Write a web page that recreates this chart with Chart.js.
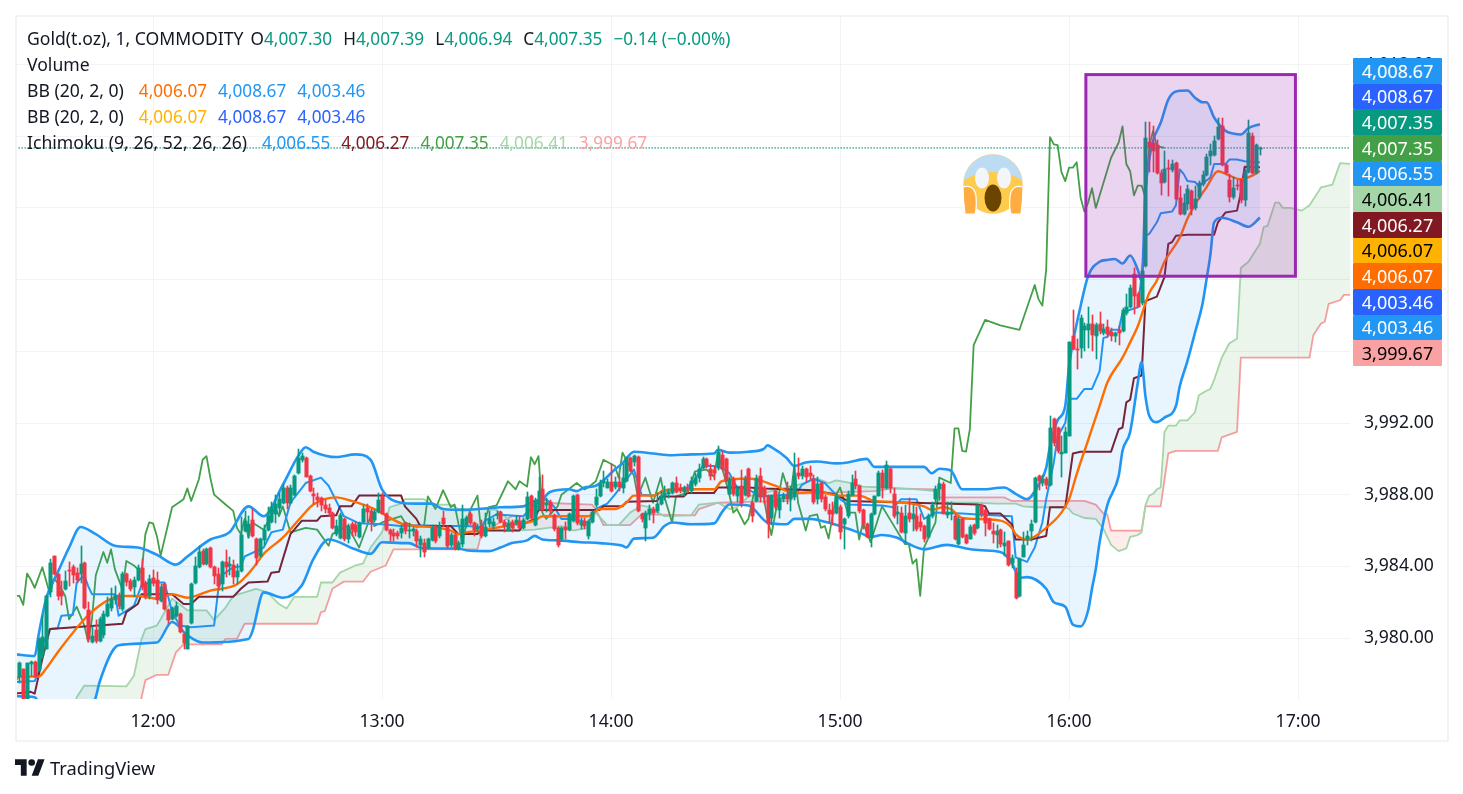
<!DOCTYPE html>
<html>
<head>
<meta charset="utf-8">
<title>Gold(t.oz), 1, COMMODITY</title>
<script src="https://cdn.jsdelivr.net/npm/chart.js@4"></script>
<style>
    html, body { margin: 0; padding: 0; background: #fff; }
    body { width: 1463px; height: 794px; position: relative; overflow: hidden; font-family: "Noto Sans", sans-serif; color: #131722; }
    canvas { position: absolute; left: 0; top: 0; }
    .frame { position: absolute; left: 15px; top: 15px; width: 1430px; height: 723px; border: 2px solid #f2f3f5; }
    .legend-row { position: absolute; left: 27px; height: 22px; line-height: 22px; font-size: 17.6px; white-space: pre; }
    .legend-row span { margin-left: 11px; font-size: 17.2px; }
    .legend-row span.first { margin-left: 15px; }
    .legend-row span.near { margin-left: 7px; }
    .legend-row span.tight { margin-left: 0; }
    .badge { position: absolute; left: 1353px; width: 89px; text-align: center; font-size: 18px; border-radius: 1px; }
    .emoji { position: absolute; left: 940px; top: 140px; }
    .logo { position: absolute; left: 15px; top: 759px; }
    .brand { position: absolute; left: 50px; top: 755px; font-size: 18.3px; line-height: 26px; color: #131722; }
</style>
</head>
<body>
<canvas id="goldChart" width="1463" height="794"></canvas>
<div class="frame"></div>

<div class="legend-row" style="top:27px">Gold(t.oz), 1, COMMODITY<span class="near">O</span><span class="tight" style="color:#089981">4,007.30</span><span>H</span><span class="tight" style="color:#089981">4,007.39</span><span>L</span><span class="tight" style="color:#089981">4,006.94</span><span>C</span><span class="tight" style="color:#089981">4,007.35</span><span style="color:#089981">−0.14 (−0.00%)</span></div>
<div class="legend-row" style="top:53px">Volume</div>
<div class="legend-row" style="top:79px">BB (20, 2, 0)<span class="first" style="color:#ff6d00">4,006.07</span><span style="color:#2196f3">4,008.67</span><span style="color:#2196f3">4,003.46</span></div>
<div class="legend-row" style="top:105px">BB (20, 2, 0)<span class="first" style="color:#ffb300">4,006.07</span><span style="color:#2962ff">4,008.67</span><span style="color:#2962ff">4,003.46</span></div>
<div class="legend-row" style="top:131px">Ichimoku (9, 26, 52, 26, 26)<span class="first" style="color:#2196f3">4,006.55</span><span style="color:#801922">4,006.27</span><span style="color:#43a047">4,007.35</span><span style="color:#a5d6a7">4,006.41</span><span style="color:#faa1a4">3,999.67</span></div>

<svg class="emoji" width="100" height="90" viewBox="0 0 100 90">
    <defs>
        <clipPath id="faceClip"><circle cx="53" cy="44" r="29.5"></circle></clipPath>
    </defs>
    <circle cx="53" cy="44" r="30" fill="#f6e9c4"></circle>
    <g clip-path="url(#faceClip)">
        <rect x="20" y="10" width="66" height="70" fill="#ffcb4c"></rect>
        <path d="M20 10 H86 V44 Q74 32 53 32 Q32 32 20 44 Z" fill="#bbdcf3"></path>
    </g>
    <ellipse cx="42" cy="38" rx="7" ry="10.5" fill="#f2f6fa"></ellipse>
    <ellipse cx="64" cy="38" rx="7" ry="10.5" fill="#f2f6fa"></ellipse>
    <ellipse cx="53" cy="58" rx="8.5" ry="13.5" fill="#6b4500"></ellipse>
    <path d="M23 47 Q34 44 36 56 Q37 68 35 74 L25 74 Q23 60 23 47 Z" fill="#ffac40" stroke="#fff" stroke-width="1.2"></path>
    <path d="M83 47 Q72 44 70 56 Q69 68 71 74 L81 74 Q83 60 83 47 Z" fill="#ffac40" stroke="#fff" stroke-width="1.2"></path>
</svg>

<svg class="logo" width="30" height="17" viewBox="0 0 36 20">
    <path d="M14 20H7V7H0V0h14v20zM28 20h-8L27.5 0h8L28 20z" fill="#131722"></path>
    <circle cx="20" cy="4" r="4" fill="#131722"></circle>
</svg>
<div class="brand">TradingView</div>

<script>
// minutes are counted from 12:00, one candle per minute
const firstCandleMinute = -35;

const openPrices = [
    3977.85,3978.3,3976.6,3978.55,3978.65,3978.2,3979.05,3979.4,3982.55,3984.6,
    3983.55,3982.65,3982.75,3983.78,3983.95,3983.65,3983.55,3984.2,3981.55,3979.8,
    3980.45,3979.85,3980.15,3981.25,3981.65,3982.1,3982.4,3981.6,3983.6,3983.2,
    3982.85,3983.25,3983.9,3983.1,3982.35,3983.35,3983.25,3982.05,3983,3981.55,
    3981.05,3981.25,3981.35,3980.25,3979.4,3980.85,3983.05,3983.95,3984.85,3984.15,
    3985,3983.95,3983.55,3983,3984.25,3984,3984.05,3983.4,3983.75,3985.95,
    3985.95,3986.6,3985.5,3984.6,3985.45,3986.05,3986.45,3986.9,3987.25,3987.55,
    3988.35,3987.55,3988,3989.2,3989.95,3990.05,3989.05,3988.05,3987.85,3987.8,
    3987.45,3987.25,3987,3985.8,3985.6,3986.65,3985.5,3986.35,3986.3,3985.65,
    3986.45,3987.25,3987.1,3986.6,3987.05,3987.9,3986.9,3986.05,3985.85,3985.85,
    3985.85,3986.4,3985.95,3985.95,3986,3985.2,3985.3,3985,3985.45,3986.2,
    3985.7,3986.7,3986.2,3985.2,3985.75,3984.95,3985.25,3986.3,3986.95,3986.4,
    3986.1,3986.25,3985.7,3986.35,3986.25,3986.85,3987.05,3986.5,3986,3986.5,
    3986.4,3986.55,3986.15,3986.65,3987.9,3986.3,3987.2,3988.3,3987.45,3987.6,
    3986.85,3986.15,3985.5,3986.2,3986.05,3986.55,3988,3986.3,3986.55,3985.7,
    3986.45,3987.4,3987.9,3988.65,3988.4,3988.7,3988.45,3988.7,3988.4,3988.75,
    3990.05,3989.85,3990.1,3986.95,3986.15,3986.9,3987.2,3987.1,3987.5,3987.9,
    3988.05,3988.1,3988.65,3988.4,3988.15,3988.4,3988.2,3988.6,3988.95,3989.5,
    3990,3989.45,3989.4,3989.5,3990.2,3990,3988.05,3988.9,3987.95,3988.5,
    3988,3989.45,3987.55,3987.65,3989.05,3988.4,3987.9,3986.7,3988.2,3987.15,
    3987.75,3988,3987.75,3987.85,3989.2,3989.05,3989.45,3989.2,3988.9,3987.75,
    3988.65,3987.85,3987.15,3987.1,3987,3987.3,3986.35,3986.8,3988,3988.9,
    3988.5,3987.15,3986.35,3985.6,3986.9,3987.95,3989.2,3988.4,3989.45,3988.05,
    3986.95,3987,3985.85,3987,3986.65,3986.8,3986.45,3986.25,3985.65,3986.8,
    3987.75,3988.3,3988.6,3986.85,3986.95,3986.8,3985.25,3986.65,3985.75,3985.55,
    3986.3,3986.15,3987.45,3987.15,3986.65,3986,3985.75,3986.05,3985.15,3985.4,
    3984.2,3983.65,3982.35,3984.55,3985.55,3985.95,3986.5,3989.05,3988.65,3988.9,
    3988.55,3992.25,3991.7,3990.25,3990.35,3991.3,3996.85,3996.1,3996.2,3997.2,
    3997.2,3997.55,3996.85,3997.5,3997,3997.35,3997.1,3996.85,3997.2,3997.15,
    3998.15,3998.5,4000.3,3999.2,3998.7,4000.75,4007.7,4007.6,4007.5,4005.95,
    4005.45,4006.25,4006.1,4006.5,4004.55,4003.65,4004.2,4004.95,4004,4004.6,
    4005.35,4005.85,4006.9,4006.95,4007.85,4008.55,4006.4,4005.55,4004.6,4005.25,
    4005.55,4004.45,4006,4008,4005.95,4007.30
];
const highPrices = [
    3978.65,3978.3,3978.6,3978.7,3978.7,3980,3981.25,3982.4,3984.4,3984.6,
    3983.6,3983.2,3983.75,3984.25,3984.1,3983.9,3985.15,3984.25,3982,3980.7,
    3981,3981.2,3981.5,3982.3,3982.8,3982.9,3982.5,3983.7,3983.65,3983.3,
    3983.4,3984.1,3984.4,3983.2,3983.5,3983.8,3983.7,3983,3983.05,3981.6,
    3981.75,3982,3981.4,3980.3,3980.7,3983.1,3984.5,3985.15,3984.95,3985.05,
    3985.1,3984,3983.9,3984.3,3984.9,3984.5,3984.35,3984.15,3986.75,3987.1,
    3986.8,3987.2,3985.6,3985.6,3986.3,3987.3,3987.6,3988,3988.1,3988.6,
    3988.5,3988.55,3989.1,3990.55,3990.3,3990.1,3989.1,3988.4,3988.1,3987.85,
    3987.7,3987.5,3987.05,3986.6,3987,3986.7,3986.35,3986.5,3986.5,3986.45,
    3987.4,3987.5,3987.2,3987.15,3988.1,3988.1,3987,3986.1,3986.1,3986,
    3986.3,3986.5,3986.4,3986.2,3986.1,3985.7,3985.5,3985.6,3986.3,3986.3,
    3986.5,3987.1,3986.25,3985.85,3985.9,3985.4,3987.4,3986.8,3987.05,3986.5,
    3986.35,3986.6,3987,3987.1,3986.7,3987.1,3987.1,3986.6,3986.6,3986.6,
    3986.8,3986.8,3986.7,3988.15,3988,3987.8,3989,3989.1,3987.8,3987.7,
    3986.9,3986.2,3986.2,3986.5,3987,3988,3988.05,3986.7,3986.7,3986.6,
    3987.1,3988.3,3988.8,3989.3,3988.85,3989.7,3989,3989.05,3989.7,3990.1,
    3990.1,3990.2,3990.15,3987,3987.1,3987.4,3987.3,3988.1,3988.2,3988.5,
    3988.3,3988.7,3989,3988.6,3988.5,3988.6,3989,3989.2,3989.7,3990.1,
    3990.05,3989.7,3989.6,3990.7,3990.45,3990.05,3989,3989,3988.5,3989.4,
    3989.05,3989.5,3987.6,3989.1,3989.5,3988.5,3988,3988,3988.3,3988,
    3988.1,3988.7,3988.5,3990.3,3990.05,3989.6,3989.5,3989.6,3989.1,3989,
    3988.7,3988,3987.5,3987.6,3988.05,3987.4,3986.7,3988.2,3989.1,3989.3,
    3988.55,3987.2,3986.4,3987,3987.95,3989.3,3989.4,3989.9,3989.5,3988.4,
    3987.35,3987.3,3987.4,3987.8,3987.4,3987.3,3986.9,3986.3,3986.9,3987.6,
    3988.5,3988.65,3988.7,3987.6,3987.6,3986.9,3986.75,3986.7,3985.8,3986.3,
    3986.35,3987.45,3987.5,3987.2,3986.7,3986.4,3986.3,3986.1,3985.9,3985.4,
    3984.65,3983.9,3984.45,3985.9,3986,3986.6,3989,3989.1,3989.1,3989,
    3992.4,3992.3,3991.8,3991.3,3991.8,3996.5,3998.3,3996.7,3998,3997.6,
    3998.5,3998,3997.6,3998.2,3997.5,3997.75,3997.3,3997.1,3997.4,3998.4,
    3999.2,3999.7,4000.65,3999.3,4000.55,4008.8,4008.8,4008.6,4007.8,4006.1,
    4007.2,4006.7,4006.65,4006.55,4005.2,4004.8,4005.3,4005,4005.2,4005.5,
    4006.05,4007,4007.55,4008,4009,4009,4006.45,4005.9,4005.7,4005.55,
    4005.6,4006.15,4008.9,4008.2,4007.55,4007.39
];
const lowPrices = [
    3977.5,3976.5,3976.5,3977.9,3977.8,3978.15,3978.9,3979.4,3982.3,3983.5,
    3982.1,3981.85,3982.7,3982.9,3983.1,3983.1,3983.1,3981.6,3979.8,3979.7,
    3979.7,3979.8,3980,3981.2,3981.5,3981.9,3981.6,3981.5,3982.9,3982.6,
    3982.3,3983.2,3982.7,3982.2,3982.2,3982.9,3981.9,3982,3981.55,3980.8,
    3981,3981.2,3980.3,3979.4,3979.4,3980.8,3983,3983.9,3984.1,3984.1,
    3983.9,3983,3982.7,3982.6,3983.4,3983.5,3983,3983,3983.7,3985.9,
    3985.6,3985.65,3984.1,3984.55,3985.2,3986,3986.4,3986.4,3986.9,3987.5,
    3987.2,3987.5,3987.9,3989.15,3989.8,3989,3988.15,3987.5,3987.3,3987.1,
    3987,3986.8,3986.1,3985.7,3985.5,3985.4,3985.3,3985.7,3985.7,3985.6,
    3986.4,3986.5,3986,3986.5,3987,3986.9,3986,3985.4,3985.4,3985.55,
    3985.6,3985.8,3985.6,3985.7,3985.1,3984.5,3984.5,3984.95,3985.4,3985.3,
    3985.6,3986.2,3985,3985.1,3984.9,3984.9,3985.1,3986.2,3986.3,3985.7,
    3985.9,3985.6,3985.65,3986.2,3986.1,3986.65,3986.4,3985.9,3985.95,3985.9,
    3986.3,3986.1,3986.1,3986.6,3986.6,3986.25,3987.1,3987.1,3987.05,3986.9,
    3986,3985.1,3985.4,3985.5,3986,3986.5,3986.3,3986.1,3986.1,3985.5,
    3986.4,3987.3,3987.85,3988.45,3988.35,3988.15,3988.3,3988.2,3988.1,3988.7,
    3989.25,3989.6,3987.05,3986.5,3985.4,3986.6,3986.4,3987,3987.4,3987.7,
    3987.8,3988.05,3988.1,3988.1,3987.95,3988.1,3988.1,3988.5,3988.7,3989.45,
    3989.5,3988.8,3988.8,3989.35,3989.4,3988.7,3988,3987.95,3987.6,3987.3,
    3987.9,3987.85,3986.5,3987.6,3987.6,3987.5,3985.6,3986.3,3987.2,3986.7,
    3987.6,3987.5,3987.1,3987.7,3988.9,3988.9,3988.7,3988.8,3987.5,3987.5,
    3987.6,3987.1,3986.4,3986.3,3986.9,3985.5,3984.95,3986.7,3987.9,3988.3,
    3987,3986.1,3985.6,3985.1,3986.85,3987.9,3987.8,3988.3,3988.1,3986.7,
    3986.35,3985.85,3985.3,3986.5,3986,3986,3986,3985.35,3985.6,3986.7,
    3987.5,3987.7,3986.9,3986.7,3986.6,3985.45,3985.2,3985.6,3985.25,3985.5,
    3985.75,3986.1,3986.75,3985.7,3986.05,3985.3,3985,3985.1,3984.6,3984,
    3983.9,3982.2,3982.3,3984.5,3985.2,3985.4,3986.4,3988.25,3988.5,3988.3,
    3988.5,3990.7,3990.3,3989,3990.3,3991.25,3996.1,3995,3995.6,3996,
    3996.2,3996,3995.55,3996.95,3996.9,3996.8,3996.6,3996.5,3996.35,3997.1,
    3998,3998.4,3998.1,3998.45,3998.6,4000.7,4006,4006,4005.9,4004.7,
    4005.4,4004.65,4006,4004.45,4003.6,4003.6,4003.9,4003.6,4003.9,4004.5,
    4005.2,4005.8,4006.4,4006.9,4007.8,4006.35,4005.9,4004.35,4004.5,4005,
    4004.3,4004.1,4005.95,4005.9,4005.9,4006.94
];
const closePrices = [
    3978.6,3976.6,3978.6,3978.65,3977.85,3979.95,3980.05,3982.35,3984.2,3983.55,
    3982.35,3982.35,3983.2,3983.73,3983.5,3983.25,3984.15,3981.65,3979.95,3980.1,
    3979.85,3981.05,3981.35,3981.9,3982.2,3982.4,3981.8,3983.55,3983.15,3982.75,
    3983.25,3983.9,3982.85,3982.35,3983.3,3983.1,3982.1,3982.85,3981.6,3981,
    3981.7,3981.8,3980.35,3979.7,3980.65,3983,3984,3984.8,3984.15,3984.95,
    3983.95,3983.45,3982.9,3984.25,3983.95,3984.15,3983.4,3983.75,3985.75,3986.55,
    3986.35,3985.7,3984.45,3985.5,3986.05,3986.8,3987.3,3987.5,3987.75,3988.4,
    3987.55,3988.4,3989.05,3990.05,3990.15,3989,3988.2,3987.9,3987.7,3987.45,
    3987.2,3987,3986.15,3986.25,3986.85,3985.5,3986.25,3986.05,3985.9,3986.4,
    3987.2,3987.05,3986.45,3987.05,3987.7,3986.95,3986.05,3985.8,3985.7,3985.7,
    3986.15,3985.95,3986,3986.1,3985.4,3985.5,3984.8,3985.5,3986.15,3985.4,
    3986.25,3986.35,3985.15,3985.75,3984.95,3985.3,3986.65,3986.7,3986.4,3986.05,
    3986.2,3985.7,3986.2,3986.65,3986.5,3986.95,3986.45,3986.25,3986.4,3986.15,
    3986.6,3986.15,3986.6,3987.85,3986.7,3987.65,3988.2,3987.15,3987.55,3987.1,
    3986.1,3985.2,3986.15,3986.05,3986.95,3987.9,3986.4,3986.5,3986.25,3986.45,
    3987.05,3987.85,3988.6,3988.75,3988.7,3988.2,3988.7,3988.45,3988.95,3990.05,
    3989.3,3990.15,3987.1,3986.65,3987,3987.2,3987,3987.5,3987.9,3988.1,
    3988.15,3988.65,3988.15,3988.2,3988.4,3988.3,3988.75,3988.95,3989.45,3990,
    3989.6,3989.05,3989.2,3990.4,3989.45,3988.75,3988.9,3988.05,3988.4,3987.55,
    3988.9,3987.95,3986.8,3988.95,3987.85,3987.9,3986.35,3987.95,3987.3,3987.8,
    3987.9,3987.75,3988.2,3989.05,3989.05,3989.45,3989,3989.05,3987.6,3988.6,
    3987.75,3987.2,3986.95,3986.95,3987.95,3985.9,3986.65,3988.05,3988.65,3988.5,
    3987.1,3986.35,3985.65,3986.95,3987.9,3989.2,3988.4,3989.65,3988.4,3986.8,
    3987.05,3985.9,3986.8,3986.65,3986.9,3986.1,3986.2,3985.5,3986.8,3987.4,
    3988.3,3988.6,3986.95,3987.05,3987.05,3985.5,3986.65,3985.65,3985.3,3986.2,
    3985.85,3987.4,3986.95,3986.4,3986.1,3985.8,3986,3985.25,3985.3,3984.05,
    3984.45,3982.25,3984.4,3985.2,3985.7,3986.35,3988.95,3988.75,3988.9,3988.55,
    3991.7,3990.9,3990.45,3990.4,3991.5,3996.5,3996.15,3996.05,3997.85,3997.4,
    3997.5,3996.9,3997.45,3997.15,3997.25,3996.95,3996.85,3997,3997,3998.3,
    3998.45,3999.55,3999.1,3998.5,4000.5,4007.9,4007.4,4007.2,4005.95,4005.4,
    4006.2,4006.15,4006.45,4004.5,4003.65,4004.3,4005.05,4003.95,4004.5,4005.4,
    4005.85,4006.85,4007.15,4007.75,4008.5,4006.4,4005.95,4004.6,4005.1,4005.2,
    4004.45,4006.05,4008.2,4005.95,4007.5,4007.35
];

// indicator lines as [minute, price]
const bbUpper = [[-36,3979.09],[-31,3979],[-30,3980.15],[-28,3982.2],[-25,3983.65],[-22,3985.05],[-19,3986.2],[-15,3985.8],[-10,3985.15],[-4,3985.05],[1,3984.65],[6,3984.1],[9,3984.55],[15,3985.5],[20,3985.9],[25,3987.35],[29,3986.8],[34,3988.55],[38,3990.15],[40,3990.65],[42,3990.4],[48,3990.1],[53,3990.25],[57,3989.95],[60,3988.3],[65,3987.55],[69,3987.5],[73,3987.5],[76,3987.2],[82,3987.15],[91,3987.3],[97,3987.35],[100,3987.65],[102,3987.75],[104,3988.15],[109,3988.3],[111,3988.2],[113,3988.4],[116,3988.5],[121,3989.4],[123,3989.75],[126,3990.4],[131,3990.3],[136,3990.2],[141,3990.25],[147,3990.3],[148,3990.5],[151,3990.35],[156,3990.4],[160,3990.55],[161,3990.75],[162,3990.65],[166,3990.05],[168,3989.6],[171,3989.8],[174,3989.85],[179,3989.75],[182,3989.8],[187,3990],[189,3989.55],[202,3989.55],[204,3989.2],[206,3989.45],[209,3989.35],[212,3988.3],[217,3988.3],[223,3988.4],[226,3988.05],[229,3987.75],[232,3988.55],[234,3989.5],[235,3990.7],[237,3992.15],[239,3992.95],[240,3995.2],[243,3998.5],[245,4000.2],[248,4001],[250,4001.1],[252,4001.15],[254,4000.9],[256,4001.35],[258,4000.55],[259,3999.9],[260,4004.85],[261,4006.7],[262,4007.75],[264,4008.75],[266,4010.05],[268,4010.5],[271,4010.55],[273,4010.15],[275,4009.9],[276,4009.9],[278,4009.05],[281,4008.3],[283,4008.15],[285,4008.1],[287,4008.45],[290,4008.67]];
const bbBasis = [[-36,3977.65],[-35,3977.85],[-30,3977.85],[-28,3978.3],[-25,3979.2],[-18,3981.05],[-15,3981.65],[-11,3982.2],[-8,3982.35],[-4,3982.35],[1,3982.2],[5,3982.45],[9,3982.25],[15,3982.65],[22,3983],[26,3983.85],[29,3984.7],[34,3985.6],[39,3986.8],[42,3987.45],[48,3987.85],[52,3987.65],[58,3987.2],[65,3986.4],[69,3986.25],[73,3986.2],[78,3986],[80,3985.8],[82,3985.9],[86,3986],[91,3986.2],[95,3986.35],[100,3986.55],[102,3986.8],[110,3986.8],[114,3986.8],[117,3987.2],[121,3987.2],[124,3987.55],[126,3987.95],[131,3987.95],[134,3988.25],[140,3988.3],[147,3988.3],[149,3988.75],[156,3988.9],[159,3988.8],[163,3988.5],[168,3988.1],[174,3988.15],[180,3987.95],[185,3987.95],[189,3987.65],[194,3987.6],[202,3987.35],[204,3987.15],[207,3987.3],[209,3987.2],[212,3986.7],[215,3986.65],[222,3986.55],[225,3986.15],[226,3985.8],[229,3985.5],[234,3986.15],[238,3987],[240,3987.75],[242,3989.15],[245,3991.05],[248,3992.95],[250,3994.25],[254,3995.65],[256,3996.5],[258,3997.4],[261,3999.25],[263,3999.95],[265,4001],[269,4002.35],[271,4003.4],[273,4004.2],[276,4005.15],[279,4006.05],[282,4005.8],[285,4005.6],[288,4005.8],[290,4006.07]];
const bbLower = [[-36,3976.75],[-31,3976.7],[-29,3976],[-22,3975],[-17,3975.9],[-15,3976.7],[-14,3977.55],[-9,3979.6],[1,3979.75],[5,3980.9],[9,3980.15],[13,3979.75],[25,3979.95],[26,3980.35],[29,3982.55],[34,3982.25],[39,3982.95],[42,3984.4],[46,3985.5],[53,3984.95],[57,3984.7],[60,3985.35],[65,3985.3],[67,3985.3],[70,3985.05],[74,3985],[80,3985],[82,3984.9],[88,3984.85],[91,3985.05],[94,3985.3],[98,3985.45],[100,3985.7],[102,3985.5],[106,3985.45],[112,3985.35],[117,3985.3],[123,3985.15],[124,3985.05],[126,3985.55],[131,3985.6],[134,3986.25],[136,3986.45],[141,3986.35],[147,3986.4],[149,3987],[151,3987.45],[156,3987.4],[161,3986.45],[166,3986.35],[168,3986.65],[172,3986.65],[175,3986.55],[180,3986.25],[186,3985.8],[188,3985.65],[191,3985.75],[195,3985.6],[198,3985.25],[202,3984.95],[208,3985.2],[213,3985],[217,3984.9],[222,3984.8],[225,3984.2],[227,3983.35],[229,3983.4],[234,3982.75],[236,3982],[239,3981.75],[241,3980.75],[243,3980.65],[245,3981.55],[246,3982.75],[247,3983.85],[248,3985.35],[250,3987.4],[253,3989.05],[254,3990.45],[256,3991.5],[258,3994.25],[259,3995.4],[260,3993.5],[261,3992.4],[263,3992.05],[265,3992.3],[268,3992.95],[269,3994.05],[271,3995.45],[273,3997.05],[275,3998.7],[276,4000],[277,4001.35],[278,4003.2],[280,4003.45],[284,4003.2],[287,4002.95],[290,4003.46]];
const conversionLine = [[-36,3977.55],[-31,3977.6],[-30,3978.1],[-29,3979.6],[-27,3980.5],[-25,3980.55],[-24,3981.25],[-21,3981.3],[-20,3983.1],[-18,3983.5],[-17,3982.9],[-16,3982.45],[-10,3982.45],[-9,3981.25],[-5,3981.8],[-3,3982.95],[-1,3983.1],[3,3983.1],[5,3981.45],[7,3980.7],[10,3980.6],[16,3980.7],[17,3982.55],[18,3983.5],[21,3983.95],[23,3984],[24,3984.55],[29,3985.05],[31,3985.9],[34,3986.05],[36,3987.55],[40,3988.65],[44,3988.95],[46,3988.5],[50,3986.8],[54,3986.4],[60,3986.35],[65,3986.25],[70,3986.3],[76,3986.25],[82,3986.25],[86,3986.2],[87,3986.55],[90,3986.9],[97,3986.8],[100,3987.45],[103,3987.75],[105,3987.35],[107,3986.65],[110,3986.65],[114,3986.45],[116,3987.2],[119,3987.5],[121,3988],[124,3988.85],[126,3989.4],[128,3988],[131,3987.95],[134,3988.2],[140,3988.4],[142,3988.85],[144,3989.6],[148,3989.6],[151,3989.2],[153,3988.4],[156,3988.3],[159,3987.9],[166,3988],[169,3988.2],[170,3988.55],[173,3988.9],[176,3988.65],[180,3987.75],[182,3987.45],[191,3987.4],[194,3987.3],[196,3987.75],[200,3987.75],[202,3986.65],[205,3987],[212,3986.95],[216,3986.9],[225,3986.8],[226,3984.5],[229,3984.25],[231,3985.05],[233,3986.45],[234,3987.75],[236,3989.8],[237,3991.25],[239,3992],[240,3993.35],[242,3993.35],[244,3993.9],[246,3993.9],[248,3994.9],[249,3996.75],[250,3996.8],[251,3997.2],[253,3997.2],[254,3998.15],[255,3998.25],[258,3998.45],[259,4000.2],[260,4002.45],[261,4002.55],[263,4003.2],[264,4003.7],[267,4003.8],[268,4004.15],[269,4006.15],[270,4005.9],[271,4005.5],[273,4005.45],[274,4005.2],[277,4005.7],[278,4006.45],[281,4006.45],[282,4006.7],[284,4006.7],[286,4006.6],[290,4006.55]];
const baseLine = [[-36,3976.9],[-32,3977],[-31,3976.9],[-29,3978.85],[-27,3980.5],[-8,3980.8],[-7,3981.45],[-4,3981.9],[-3,3982.45],[5,3982.45],[8,3981.9],[10,3981.9],[12,3982.3],[21,3982.3],[23,3982.75],[25,3983.1],[30,3983.15],[31,3983.65],[33,3983.7],[36,3985.8],[39,3986.55],[43,3986.55],[44,3986.8],[48,3986.85],[49,3987.35],[52,3987.35],[54,3987.95],[65,3987.95],[66,3987.35],[69,3986.65],[70,3986.25],[78,3986.25],[80,3985.8],[85,3985.8],[86,3986],[96,3986],[97,3986.35],[100,3986.65],[101,3987.15],[117,3987.15],[118,3987.35],[123,3987.35],[124,3987.6],[132,3987.65],[133,3987.9],[139,3987.9],[140,3988.1],[147,3988.1],[148,3988.4],[156,3988.4],[160,3988.35],[173,3988.25],[179,3988],[182,3987.65],[216,3987.45],[218,3987.35],[219,3986.95],[222,3986.95],[225,3986.35],[226,3985.5],[230,3985.5],[234,3985.7],[235,3987.3],[239,3987.3],[241,3990.3],[243,3990.4],[251,3990.4],[253,3991.65],[254,3991.75],[255,3993.15],[256,3993.3],[257,3994.5],[259,3994.65],[260,3998.8],[263,3999.05],[265,4000.15],[266,4002],[267,4002.1],[268,4002.45],[271,4002.5],[278,4002.5],[279,4003.2],[281,4003.75],[284,4003.85],[285,4004.85],[286,4006.3],[290,4006.27]];
const laggingSpan = [[-36,3982.35],[-35,3982.35],[-34,3981.85],[-33,3983.6],[-32,3983.25],[-31,3982.8],[-29,3983.95],[-27,3982.45],[-26,3983.3],[-25,3983.1],[-23,3982.35],[-22,3981.05],[-20,3981.75],[-18,3980.7],[-17,3979.8],[-16,3981.05],[-15,3983.5],[-13,3984.8],[-12,3984.2],[-11,3984.95],[-10,3983.85],[-8,3982.7],[-7,3984.3],[-5,3984.05],[-3,3983.65],[-2,3985.8],[-1,3986.45],[0,3986.4],[1,3985.7],[2,3984.6],[5,3987.3],[8,3987.75],[9,3988.35],[10,3987.65],[12,3988.85],[13,3989.95],[14,3990.15],[15,3988.95],[16,3988],[19,3987.45],[21,3987.1],[22,3986.15],[23,3985.8],[24,3986.65],[25,3985.6],[26,3986.45],[29,3986.05],[32,3987.3],[33,3986.8],[34,3987.35],[36,3985.9],[40,3986.15],[43,3986.05],[46,3985.15],[47,3985.8],[49,3986.05],[51,3986.25],[54,3985.05],[57,3986.8],[58,3986.25],[60,3986.45],[65,3986.8],[66,3986.45],[69,3986.2],[71,3986.25],[72,3987.9],[74,3987.2],[76,3988.25],[78,3987.3],[79,3987.45],[81,3985.35],[83,3987.1],[85,3987.95],[86,3985.9],[88,3987.3],[90,3987.4],[93,3988.75],[95,3988.3],[96,3988.75],[98,3988.45],[99,3990.1],[100,3989.7],[101,3990.15],[102,3987],[103,3986.65],[106,3987.35],[107,3988],[111,3988.65],[113,3988.3],[114,3988.4],[116,3988.75],[118,3989.95],[121,3989.6],[122,3988.95],[123,3990.35],[124,3989.95],[126,3989.05],[127,3987.9],[129,3988.95],[131,3987.55],[133,3988.95],[134,3987.85],[136,3986.45],[137,3987.9],[140,3988.1],[142,3989.3],[145,3989.4],[147,3989],[148,3990.35],[151,3988],[152,3987],[153,3987.2],[155,3986.35],[156,3986.65],[158,3988.65],[159,3988.85],[160,3987.85],[161,3986.65],[162,3985.75],[165,3989.2],[167,3987.85],[168,3989.6],[169,3987.55],[170,3986.8],[171,3986],[172,3986.8],[174,3986.9],[175,3986.15],[176,3986.25],[177,3985.55],[179,3988],[180,3988.4],[182,3987],[184,3987],[185,3985.5],[186,3986.45],[188,3985.35],[191,3987.35],[193,3986.65],[197,3985.25],[198,3985.25],[199,3984.15],[200,3984.4],[201,3982.35],[202,3985.05],[205,3986.45],[206,3988.95],[209,3988.65],[210,3991.7],[211,3991.7],[212,3990.45],[213,3990.4],[214,3991.65],[215,3996.35],[218,3997.75],[222,3997.45],[227,3997.2],[231,3999.7],[232,3998.9],[233,3998.55],[234,4000.55],[235,4007.95],[236,4007.55],[237,4007.5],[238,4006],[239,4005.5],[240,4006.25],[241,4006.25],[242,4006.55],[243,4004.6],[244,4003.8],[245,4004.3],[246,4005.1],[247,4004],[251,4006.8],[253,4007.65],[254,4008.55],[255,4006.45],[256,4006.05],[257,4004.7],[258,4005.25],[259,4005.25],[260,4004.6],[261,4007.45],[262,4008.3],[263,4007.45],[265,4007.35]];
const leadingSpanA = [[-36,3974],[-21,3975.9],[-20,3976.7],[-18,3977.35],[-7,3977.3],[-5,3977.9],[-3,3979.95],[-2,3980.5],[1,3980.7],[2,3981.05],[5,3982.2],[9,3981.55],[14,3981.55],[16,3981],[19,3981.7],[21,3982.35],[27,3982.75],[30,3982.55],[33,3981.9],[35,3981.65],[37,3982.3],[43,3982.3],[44,3983.1],[47,3983.1],[49,3983.65],[53,3984.05],[55,3984.15],[57,3985.05],[60,3985.9],[62,3987.3],[65,3987.5],[66,3987.75],[71,3987.75],[73,3987.45],[78,3987.45],[80,3987.2],[86,3987.2],[90,3987.15],[93,3986.65],[95,3986],[100,3986.05],[107,3986.25],[110,3986],[114,3986.15],[116,3987],[119,3986.3],[122,3986.3],[125,3987],[128,3987.4],[130,3987.3],[134,3986.8],[141,3986.85],[143,3987.45],[148,3987.55],[151,3987.2],[153,3987.3],[156,3987.9],[168,3988.5],[169,3988.55],[174,3988.9],[177,3988.65],[179,3988.8],[183,3988.65],[186,3988.45],[191,3988.4],[200,3988.3],[205,3988.2],[206,3987.55],[216,3987.55],[221,3987.5],[226,3987.5],[228,3987.35],[231,3987.3],[239,3987.3],[240,3987.2],[241,3986.95],[244,3986.7],[247,3986.65],[249,3986.1],[251,3985.2],[253,3984.85],[255,3985],[256,3985.65],[258,3985.75],[259,3985.9],[260,3987.4],[261,3987.95],[262,3988.05],[263,3988.3],[264,3988.4],[265,3991.5],[266,3991.85],[268,3991.85],[269,3992.15],[271,3992.15],[273,3992.6],[274,3993.55],[276,3993.8],[277,3993.9],[278,3994.4],[280,3995.65],[282,3996.45],[284,3996.7],[285,4000.65],[287,4001],[290,4002],[291,4002.95],[292,4003],[294,4004.3],[295,4004.3],[296,4004],[298,4004],[301,4003.85],[303,4004.15],[305,4004.8],[306,4005.15],[309,4005.3],[311,4006.5],[314,4006.45],[316,4006.41]];
const leadingSpanB = [[-36,3970],[-4,3975],[-3,3976.7],[-2,3977.65],[1,3977.95],[4,3977.95],[6,3979.2],[8,3979.65],[18,3979.65],[19,3979.95],[22,3979.95],[24,3980.8],[43,3980.8],[44,3981.45],[45,3981.5],[47,3982.75],[50,3983.15],[55,3983.15],[57,3983.7],[61,3984.05],[63,3984.95],[85,3984.95],[86,3985.8],[87,3986],[94,3986.8],[97,3986.8],[100,3987.2],[102,3987.55],[115,3987.45],[116,3987.2],[118,3986.3],[125,3986.3],[128,3986.9],[142,3986.85],[143,3987.2],[148,3987.55],[156,3987.6],[167,3987.65],[168,3988.05],[189,3988.2],[194,3988.35],[205,3988.3],[206,3987.85],[223,3987.85],[225,3987.65],[244,3987.65],[247,3987.45],[249,3986.95],[250,3986.9],[251,3986],[259,3986],[260,3987.35],[264,3987.35],[266,3990.3],[268,3990.45],[279,3990.45],[280,3991.2],[284,3991.5],[285,3995.65],[303,3995.65],[304,3996.9],[306,3997.55],[307,3997.65],[308,3998.65],[311,3998.85],[312,3999.15],[314,3999.15],[316,3999.67]];

const lastPrice = 4007.35;

// price badges on the right axis, top to bottom
const badgeValues = ['4,008.67','4,008.67','4,007.35','4,007.35','4,006.55','4,006.41','4,006.27','4,006.07','4,006.07','4,003.46','4,003.46','3,999.67'];
const badgeColors = ['#2196f3','#2962ff','#089981','#43a047','#2196f3','#a5d6a7','#801922','#ffb300','#ff6d00','#2962ff','#2196f3','#faa1a4'];
const badgeTextColors = ['#fff','#fff','#fff','#fff','#fff','#000','#fff','#000','#fff','#fff','#fff','#000'];

// highlighted zone, in minutes and prices
const zoneStart = 244.4;
const zoneEnd = 299.3;
const zoneTop = 4011.44;
const zoneBottom = 4000.19;

const upColor = '#089981';
const downColor = '#f23645';
const gridColor = '#f2f3f5';
const axisFont = { family: '"Noto Sans", sans-serif', size: 17.6 };

badgeValues.forEach((value, i) => {
    const badge = document.createElement('div');
    const top = Math.round(58 + i * 25.67);
    const bottom = Math.round(58 + (i + 1) * 25.67);
    badge.className = 'badge';
    badge.textContent = value;
    badge.style.top = top + 'px';
    badge.style.height = (bottom - top) + 'px';
    badge.style.lineHeight = (bottom - top) + 'px';
    badge.style.background = badgeColors[i];
    badge.style.color = badgeTextColors[i];
    document.body.appendChild(badge);
});

const candleMinutes = openPrices.map((_, i) => firstCandleMinute + i);
const candleColor = ctx => closePrices[ctx.dataIndex] >= openPrices[ctx.dataIndex] ? upColor : downColor;

function indicator(label, data, color, width, order, extra) {
    return Object.assign({
        type: 'line', label, data, borderColor: color, borderWidth: width, order,
        pointRadius: 0, tension: 0, fill: false, borderJoinStyle: 'round'
    }, extra);
}

// keeps the thin candle bars on whole pixels
const snapCandles = {
    id: 'snapCandles',
    beforeDatasetsDraw(chart) {
        chart.getSortedVisibleDatasetMetas().forEach(meta => {
            if (meta.type !== 'bar') return;
            meta.data.forEach(bar => {
                bar.x = Math.round(bar.x) + 0.5;
                bar.y = Math.round(bar.y);
                bar.base = Math.round(bar.base);
                if (bar.y === bar.base) bar.base += 1;
            });
        });
    }
};

const zoneBox = {
    id: 'zoneBox',
    afterDatasetsDraw(chart) {
        const { ctx, scales: { x, y } } = chart;
        const left = x.getPixelForValue(zoneStart);
        const right = x.getPixelForValue(zoneEnd);
        const top = y.getPixelForValue(zoneTop);
        const bottom = y.getPixelForValue(zoneBottom);
        ctx.save();
        ctx.fillStyle = 'rgba(156, 39, 176, 0.2)';
        ctx.strokeStyle = '#9c27b0';
        ctx.lineWidth = 3;
        ctx.fillRect(left, top, right - left, bottom - top);
        ctx.strokeRect(left, top, right - left, bottom - top);
        ctx.restore();
    }
};

const smooth = { cubicInterpolationMode: 'monotone' };

new Chart(document.getElementById('goldChart'), {
    type: 'line',
    data: {
        datasets: [
            { type: 'bar', label: 'wick', order: 2, barThickness: 1, grouped: false, backgroundColor: candleColor,
              data: candleMinutes.map((m, i) => ({ x: m, y: [lowPrices[i], highPrices[i]] })) },
            { type: 'bar', label: 'body', order: 1, barThickness: 3.4, grouped: false, minBarLength: 1, backgroundColor: candleColor,
              data: candleMinutes.map((m, i) => ({ x: m, y: [openPrices[i], closePrices[i]] })) },
            indicator('BB upper', bbUpper, '#2196f3', 2.6, 10, { ...smooth, fill: '+2', backgroundColor: 'rgba(33, 150, 243, 0.1)' }),
            indicator('BB basis', bbBasis, '#ff6d00', 2.4, 9, smooth),
            indicator('BB lower', bbLower, '#2196f3', 2.6, 10, smooth),
            indicator('Conversion', conversionLine, '#2196f3', 2, 13),
            indicator('Base', baseLine, '#801922', 2, 12),
            indicator('Lagging', laggingSpan, '#43a047', 1.8, 14),
            indicator('Leading A', leadingSpanA, '#a5d6a7', 1.8, 16, {
                fill: { target: '+1', above: 'rgba(67, 160, 71, 0.1)', below: 'rgba(244, 67, 54, 0.1)' }
            }),
            indicator('Leading B', leadingSpanB, '#faa1a4', 1.8, 17),
            indicator('Last price', [[-36, lastPrice], [314, lastPrice]], upColor, 1.6, 0, { borderDash: [1, 2] })
        ]
    },
    options: {
        responsive: false,
        animation: false,
        events: [],
        layout: { autoPadding: false, padding: { left: 16, top: 16, right: 15, bottom: 53 } },
        plugins: { legend: { display: false }, tooltip: { enabled: false } },
        scales: {
            x: {
                type: 'linear',
                offset: false,
                min: -35.9,
                max: 313.6,
                afterFit(axis) { axis.height = 42; },
                grid: { color: gridColor, drawTicks: false, offset: false },
                border: { display: false },
                ticks: {
                    stepSize: 60,
                    includeBounds: false,
                    autoSkip: false,
                    maxRotation: 0,
                    padding: 12,
                    color: '#131722',
                    font: axisFont,
                    callback: v => (12 + v / 60) + ':00'
                }
            },
            y: {
                type: 'linear',
                position: 'right',
                min: 3976.6,
                max: 4014.71,
                afterFit(axis) {
                    // the tick padding must not eat into the plot height
                    axis.width = 98;
                    axis.paddingTop = 0;
                    axis.paddingBottom = 0;
                    axis._margins.top = 0;
                    axis._margins.bottom = 0;
                },
                grid: { color: gridColor, drawTicks: false },
                border: { display: false },
                ticks: {
                    stepSize: 4,
                    includeBounds: false,
                    autoSkip: false,
                    padding: 14,
                    color: '#131722',
                    font: axisFont,
                    callback: v => v.toLocaleString('en-US', { minimumFractionDigits: 2, maximumFractionDigits: 2 })
                }
            }
        }
    },
    plugins: [snapCandles, zoneBox]
});
</script>
</body>
</html>
